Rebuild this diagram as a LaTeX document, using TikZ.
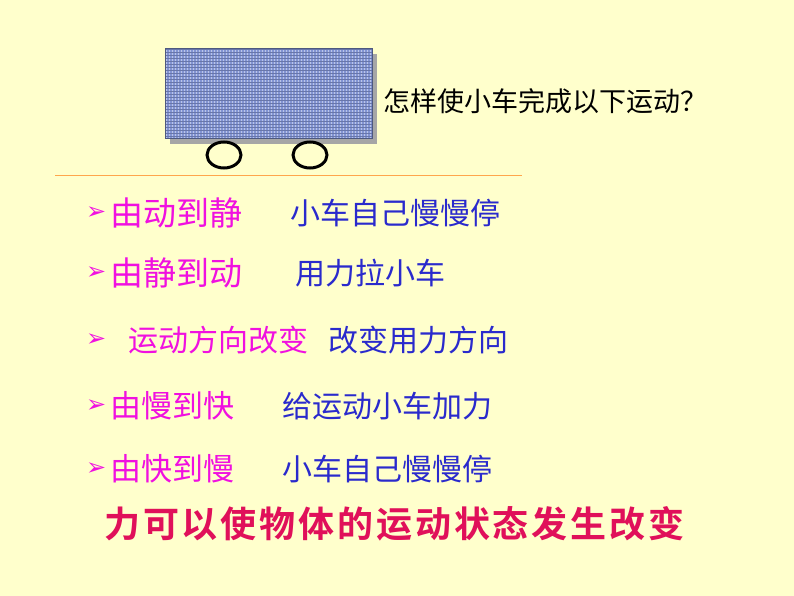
\documentclass[tikz,border=0pt]{standalone}
\usetikzlibrary{shapes.geometric}
\usepackage{fontspec}
\newfontfamily\cjk{Noto Sans CJK SC}
\newfontfamily\cjkb[LetterSpace=8]{Noto Sans CJK SC Bold}
\newfontfamily\djv{DejaVu Sans}
\definecolor{bg}{HTML}{FFFFCC}
\definecolor{mag}{HTML}{F010E0}
\definecolor{blu}{HTML}{2A2ACC}
\definecolor{red}{HTML}{E0105A}
\definecolor{cart}{HTML}{8294D4}
\begin{document}
\begin{tikzpicture}[x=1pt,y=-1pt,
  lbl/.style={anchor=west,inner sep=0,font=\cjk\fontsize{30}{30}\selectfont},
  mk/.style={anchor=west,inner sep=0,text=mag,font=\djv\fontsize{24}{24}\selectfont},
  wheel/.style={draw=black,line width=3pt,fill=bg}]
\fill[bg] (0,0) rectangle (794,596);
\useasboundingbox (0,0) rectangle (794,596);
\fill[gray!70] (170,54) rectangle (377,144);
\node[fill=cart,minimum width=207pt,minimum height=90pt,inner sep=0,anchor=north west] (car) at (165,48) {};
\foreach \i in {0,...,68}{\draw[white!45!cart,line width=0.5pt] (166+\i*3,48) -- ++(0,90);}
\foreach \j in {0,...,29}{\draw[cart!80!black,line width=0.4pt] (165,49+\j*3) -- ++(207,0);}
\draw[cart!60!black] (165,48) rectangle (372,138);
\node[wheel,ellipse,minimum width=34pt,minimum height=26pt,inner sep=0] (w1) at (224,155) {};
\node[wheel,ellipse,minimum width=34pt,minimum height=26pt,inner sep=0] (w2) at (310,155) {};
\draw[orange!70,line width=0.8pt] (55,175) coordinate (l1) -- (522,175) coordinate (l2);
\node[lbl,font=\cjk\fontsize{27}{27}\selectfont] (q) at (383,101) {怎样使小车完成以下运动？};
\node[mk] (m1) at (86,213) {➢};
\node[lbl,text=mag,font=\cjk\fontsize{33}{33}\selectfont] (a1) at (110,213) {由动到静};
\node[lbl,text=blu] (b1) at (290,213) {小车自己慢慢停};
\node[mk] (m2) at (86,273) {➢};
\node[lbl,text=mag,font=\cjk\fontsize{33}{33}\selectfont] (a2) at (110,273) {由静到动};
\node[lbl,text=blu] (b2) at (295,273) {用力拉小车};
\node[mk] (m3) at (86,340) {➢};
\node[lbl,text=mag] (a3) at (128,340) {运动方向改变};
\node[lbl,text=blu] (b3) at (328,340) {改变用力方向};
\node[mk] (m4) at (86,406) {➢};
\node[lbl,text=mag,font=\cjk\fontsize{31}{31}\selectfont] (a4) at (110,406) {由慢到快};
\node[lbl,text=blu] (b4) at (282,406) {给运动小车加力};
\node[mk] (m5) at (86,469) {➢};
\node[lbl,text=mag,font=\cjk\fontsize{31}{31}\selectfont] (a5) at (110,469) {由快到慢};
\node[lbl,text=blu] (b5) at (282,469) {小车自己慢慢停};
\node[anchor=west,inner sep=0,text=red,font=\cjkb\fontsize{36}{36}\selectfont] (c) at (104,524) {力可以使物体的运动状态发生改变};
\end{tikzpicture}
\end{document}
